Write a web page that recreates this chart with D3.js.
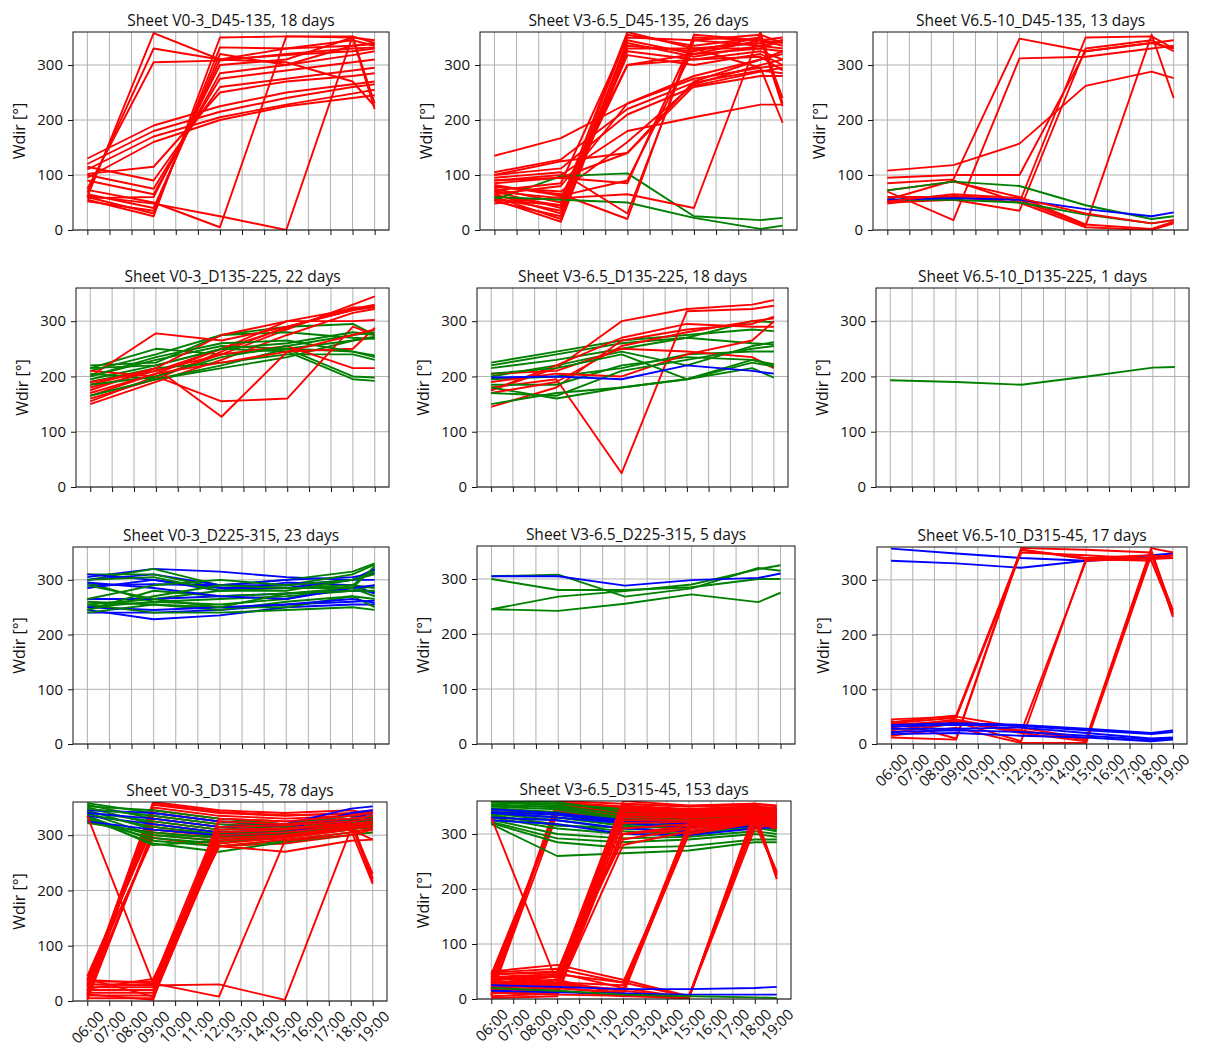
<!DOCTYPE html>
<html><head><meta charset="utf-8">
<script src="https://cdn.jsdelivr.net/npm/d3@7"></script>
<style>
body{margin:0;background:#fff;}
svg text{font-family:"Open Sans",sans-serif;fill:#111;}
</style></head><body>
<svg id="chart" width="1207" height="1050"></svg>
<script>
// ---------------- data ----------------
const hours = [6, 9, 12, 15, 18, 19];
const xTickHours = [6, 7, 8, 9, 10, 11, 12, 13, 14, 15, 16, 17, 18, 19];
const xTickLabels = ["06:00","07:00","08:00","09:00","10:00","11:00","12:00","13:00","14:00","15:00","16:00","17:00","18:00","19:00"];
const yTicks = [0, 100, 200, 300];
const yLabel = "Wdir [°]";
const titles = [
  "Sheet V0-3_D45-135, 18 days",
  "Sheet V3-6.5_D45-135, 26 days",
  "Sheet V6.5-10_D45-135, 13 days",
  "Sheet V0-3_D135-225, 22 days",
  "Sheet V3-6.5_D135-225, 18 days",
  "Sheet V6.5-10_D135-225, 1 days",
  "Sheet V0-3_D225-315, 23 days",
  "Sheet V3-6.5_D225-315, 5 days",
  "Sheet V6.5-10_D315-45, 17 days",
  "Sheet V0-3_D315-45, 78 days",
  "Sheet V3-6.5_D315-45, 153 days"
];
const seriesColors = {r: "#ff0000", g: "#008000", b: "#0000ff"};

// each row: colour code, then Wdir at 06,09,12,15,18,19 h
const v0_3_D45_135 = [
  ["r",60,358,310,330,345,335],["r",68,330,310,305,270,225],["r",75,305,308,320,330,332],
  ["r",55,25,350,352,352,340],["r",60,30,332,330,335,338],["r",65,40,310,318,325,330],
  ["r",90,65,285,300,318,325],["r",100,75,275,290,305,310],["r",115,90,260,275,290,295],
  ["r",102,115,250,270,280,285],["r",130,190,225,250,265,270],["r",120,180,215,240,260,265],
  ["r",110,170,205,228,248,255],["r",95,160,200,225,240,245],["r",73,50,5,352,350,345],
  ["r",62,48,25,0,352,230],["r",58,60,300,310,350,220],["r",52,35,320,300,335,340]
];
const v3_6_D45_135 = [
  ["r",135,167,230,275,295,300],["r",105,128,220,268,290,285],["r",100,112,210,260,280,280],
  ["r",90,100,180,205,228,228],["r",85,95,140,270,310,325],["r",78,70,160,265,300,310],
  ["r",75,50,360,330,340,345],["r",70,40,355,335,350,240],["r",65,30,345,320,345,340],
  ["r",60,20,340,315,335,330],["r",55,15,330,330,330,325],["r",52,25,325,310,325,310],
  ["r",58,35,318,300,320,300],["r",48,60,300,310,315,290],["g",55,98,103,25,18,22],
  ["r",62,45,335,325,350,225],["r",80,65,20,355,345,335],["r",90,95,85,350,345,350],
  ["r",70,58,65,40,360,230],["r",65,80,230,280,310,320],["r",100,125,140,262,288,295],
  ["g",60,55,50,22,2,8],["r",55,45,300,320,330,345],["r",72,85,350,345,355,340],
  ["r",82,62,90,330,295,195],["r",95,105,30,345,335,345]
];
const v6_10_D45_135 = [
  ["r",108,118,157,262,288,276],["r",95,100,100,325,340,345],["r",85,92,348,325,340,330],
  ["r",70,18,312,315,330,335],["r",55,90,50,350,352,330],["r",50,55,35,330,345,325],
  ["r",48,62,55,8,355,240],["r",60,60,50,5,0,12],["r",72,88,60,10,2,15],
  ["g",72,88,80,45,20,25],["g",55,55,50,28,12,18],["b",55,58,55,38,25,32],
  ["r",52,65,58,30,12,18]
];
const v0_3_D135_225 = [
  ["g",215,250,240,250,245,235],["r",155,200,240,285,330,345],["g",220,225,275,290,295,275],
  ["r",160,195,245,290,320,328],["g",210,240,275,280,270,268],["r",165,205,250,288,325,325],
  ["g",200,230,255,250,200,198],["r",150,190,230,275,315,322],["g",195,220,250,245,195,192],
  ["r",180,210,250,300,322,330],["g",190,215,225,240,240,230],["r",200,278,265,290,320,325],
  ["g",205,195,215,235,265,270],["r",210,200,155,160,290,275],["g",165,195,220,250,265,272],
  ["r",185,215,127,245,250,288],["g",215,220,250,260,280,275],["r",175,215,275,300,300,302],
  ["g",200,235,260,265,245,238],["r",190,210,240,255,215,215],["g",185,200,235,255,275,280],
  ["r",170,205,225,245,275,285]
];
const v3_6_D135_225 = [
  ["g",225,245,265,275,285,282],["g",220,240,260,270,300,298],["r",175,215,300,322,330,338],
  ["g",215,230,250,270,260,258],["r",180,195,25,318,322,328],["g",200,220,245,220,255,262],
  ["r",145,180,265,285,295,308],["g",195,200,215,240,245,245],["r",205,210,250,245,235,215],
  ["g",185,185,220,235,230,220],["r",175,220,270,295,290,290],["g",180,160,180,195,225,218],
  ["r",190,205,200,240,265,300],["g",150,170,180,195,215,198],["r",170,190,255,280,300,305],
  ["g",170,165,210,230,250,255],["g",205,215,240,195,230,222],["b",198,200,195,220,210,205]
];
const v6_10_D135_225 = [
  ["g",193,190,185,200,216,217]
];
const v0_3_D225_315 = [
  ["b",305,320,315,305,300,318],["g",300,320,290,300,315,330],["b",300,310,290,300,305,312],
  ["g",310,310,285,290,310,328],["b",290,292,290,290,300,300],["g",295,260,255,265,290,320],
  ["b",285,300,280,295,290,275],["g",255,265,280,285,290,285],["b",265,265,270,275,280,278],
  ["g",250,260,265,270,280,290],["b",245,228,235,250,255,255],["g",245,280,270,275,285,270],
  ["b",240,240,245,255,260,262],["g",240,255,245,260,270,265],["b",295,285,270,265,285,290],
  ["g",260,255,250,250,270,250],["b",250,245,250,255,265,258],["g",255,240,240,245,250,245],
  ["b",310,300,285,285,300,320],["g",290,265,250,275,280,280],["g",300,305,280,280,300,315],
  ["g",245,270,290,285,285,325],["g",265,290,300,290,300,310]
];
const v3_6_D225_315 = [
  ["g",305,308,268,283,320,315],["g",300,280,280,285,300,300],["g",245,268,278,290,318,325],
  ["g",245,242,255,272,258,275],["b",305,305,288,298,302,310]
];
const v6_10_D315_45 = [
  ["b",357,348,340,335,345,348],["b",335,330,322,335,340,340],
  ["r",40,52,355,340,340,345],["r",38,48,350,345,338,340],["r",42,10,358,355,350,235],
  ["r",12,8,355,338,335,238],["r",30,45,22,335,340,345],["r",25,40,5,340,345,340],
  ["r",35,42,20,5,355,240],["r",20,38,25,8,350,232],["r",15,30,2,2,345,245],
  ["r",45,50,30,10,358,350],
  ["b",32,35,33,25,18,22],["b",28,28,30,20,10,12],["b",22,25,22,15,8,10],
  ["b",18,20,15,12,5,8],["b",35,38,35,28,20,25]
];
const v0_3_D315_45 = [
  ["r",5,355,340,335,340,345],["r",10,350,335,330,335,340],["r",15,345,330,325,330,335],
  ["r",20,340,325,320,328,330],["r",25,335,320,318,325,215],["r",30,330,315,315,330,222],
  ["r",35,325,310,312,320,328],["r",40,320,305,310,318,325],["r",45,315,300,308,315,320],
  ["r",2,310,298,305,312,318],["r",8,305,295,300,322,230],["r",12,360,345,340,345,338],
  ["r",18,300,290,298,310,315],["r",28,358,342,336,338,342],["r",38,295,280,285,300,305],
  ["g",355,330,315,305,320,325],["g",350,320,305,300,315,320],["g",345,310,300,298,312,330],
  ["g",340,300,290,295,310,318],["g",335,290,280,290,305,312],["g",330,285,270,288,300,305],
  ["g",325,295,285,300,318,322],["g",322,305,295,305,325,328],["g",358,340,325,315,330,335],
  ["b",345,340,325,320,348,352],["b",335,320,305,310,340,345],
  ["g",352,345,330,320,335,332],["g",348,335,320,310,328,320],["g",342,325,310,312,322,315],
  ["g",338,315,302,308,318,310],["g",333,282,290,302,315,326],["g",328,300,298,310,325,330],
  ["b",325,310,300,305,325,330],["b",340,330,315,318,330,340],
  ["r",35,35,325,320,330,335],["r",30,30,315,318,325,330],["r",25,25,310,312,322,220],
  ["r",20,20,305,310,320,325],["r",15,15,300,305,318,322],["r",10,10,295,300,315,318],
  ["r",5,5,290,298,312,316],["r",40,8,285,295,310,212],["r",22,40,280,292,305,312],
  ["r",12,2,330,325,335,340],["r",38,32,8,290,300,310],["r",30,28,30,2,310,292],
  ["r",335,32,280,270,290,292]
];
const v3_6_D315_45 = [
  ["r",5,358,350,345,350,348],["r",10,355,348,342,348,345],["r",15,352,345,340,346,342],
  ["r",20,350,342,338,344,340],["r",25,348,340,336,342,336],["r",30,345,338,334,340,218],
  ["r",35,342,335,332,338,332],["r",40,340,332,330,336,330],["r",45,338,330,328,334,328],
  ["r",8,336,328,326,332,325],["r",18,360,355,350,355,352],
  ["g",360,358,340,330,340,335],["g",357,352,335,325,335,330],["g",354,348,330,320,330,328],
  ["g",350,345,325,318,328,325],["g",347,340,320,315,325,322],["g",344,335,318,312,322,318],
  ["g",340,330,315,310,320,315],["g",337,325,310,305,318,312],["g",333,318,305,300,315,308],
  ["g",330,310,300,298,312,305],["g",326,300,292,295,305,300],["g",322,292,285,290,300,295],
  ["g",318,260,265,270,285,285],["g",320,285,275,278,290,290],["g",358,355,345,335,345,340],
  ["g",352,350,328,322,332,332],["g",345,338,322,310,326,318],["g",335,315,312,302,316,310],
  ["b",345,338,325,318,325,325],["b",338,330,320,312,320,322],["b",330,325,310,305,315,315],
  ["b",325,318,300,298,310,312],["b",340,335,322,320,328,320],
  ["r",40,45,360,352,355,350],["r",35,40,355,350,352,345],["r",30,35,352,345,350,342],
  ["r",25,30,348,342,348,338],["r",20,25,345,340,345,335],["r",15,20,342,338,342,330],
  ["r",10,15,338,335,340,225],["r",5,10,335,332,338,220],["r",45,50,330,330,335,328],
  ["r",2,5,325,325,332,322],["r",28,18,320,322,330,318],["r",12,8,310,318,328,315],
  ["r",38,28,300,315,325,312],["r",22,42,290,310,322,232],["r",18,12,280,305,320,310],
  ["r",30,25,18,320,330,335],["r",25,20,12,315,328,332],["r",20,35,8,310,325,330],
  ["r",40,30,25,305,322,328],["r",15,45,30,300,320,325],
  ["r",35,20,10,2,330,225],["r",20,15,5,5,320,230],["r",42,28,15,3,310,320],["r",12,8,6,1,340,338],
  ["r",330,30,15,300,320,325],["r",50,62,35,5,320,330],["r",48,55,30,4,335,340],
  ["r",45,48,20,2,342,345],["r",38,42,300,310,330,228],
  ["b",25,22,18,18,20,22],["b",15,12,10,8,8,8],["g",20,15,8,5,3,2]
];

// ---------------- layout ----------------
const panelData = [v0_3_D45_135, v3_6_D45_135, v6_10_D45_135,
                   v0_3_D135_225, v3_6_D135_225, v6_10_D135_225,
                   v0_3_D225_315, v3_6_D225_315, v6_10_D315_45,
                   v0_3_D315_45, v3_6_D315_45];
const panelBoxes = [
  {x:73, y:32, w:316, h:198, lab:false}, {x:480, y:32, w:317, h:198, lab:false}, {x:873, y:32, w:315, h:198, lab:false},
  {x:76, y:288, w:313, h:199, lab:false}, {x:477, y:288, w:311, h:199, lab:false}, {x:876, y:288, w:313, h:199, lab:false},
  {x:73, y:547, w:316, h:197, lab:false}, {x:477, y:546, w:318, h:198, lab:false}, {x:877, y:547, w:310, h:197, lab:true},
  {x:73, y:802, w:314, h:199, lab:true}, {x:477, y:801, w:314, h:198, lab:true}
];

const svg = d3.select("#chart");
const lineW = 1.9;

panelData.forEach((rows, pi) => {
  const b = panelBoxes[pi];
  const g = svg.append("g").attr("transform", `translate(${b.x},${b.y})`);
  const xs = d3.scaleLinear().domain([6 - 0.65, 19 + 0.65]).range([0, b.w]);
  const ys = d3.scaleLinear().domain([0, 360]).range([b.h, 0]);

  // grid
  g.append("g").selectAll("line.vx").data(xTickHours).join("line")
    .attr("x1", d => xs(d)).attr("x2", d => xs(d)).attr("y1", 0).attr("y2", b.h)
    .attr("stroke", "#b0b0b0").attr("stroke-width", 1);
  g.append("g").selectAll("line.hy").data(yTicks).join("line")
    .attr("x1", 0).attr("x2", b.w).attr("y1", d => ys(d)).attr("y2", d => ys(d))
    .attr("stroke", "#b0b0b0").attr("stroke-width", 1);

  // clip
  const cid = "clip" + pi;
  g.append("clipPath").attr("id", cid).append("rect").attr("width", b.w).attr("height", b.h);

  const line = d3.line().x((d, i) => xs(hours[i])).y(d => ys(d));
  g.append("g").attr("clip-path", `url(#${cid})`).selectAll("path").data(rows).join("path")
    .attr("d", r => line(r.slice(1)))
    .attr("fill", "none").attr("stroke", r => seriesColors[r[0]])
    .attr("stroke-width", lineW).attr("stroke-linejoin", "round");

  // axes
  const ax = g.append("g").attr("transform", `translate(0,${b.h})`)
    .call(d3.axisBottom(xs).tickValues(xTickHours).tickSize(5).tickFormat(""));
  ax.select(".domain").remove();
  ax.selectAll(".tick line").attr("stroke", "#111");
  const ay = g.append("g").call(d3.axisLeft(ys).tickValues(yTicks).tickSize(5).tickPadding(5));
  ay.select(".domain").remove();
  ay.selectAll(".tick line").attr("stroke", "#111");
  ay.selectAll(".tick text").attr("font-size", 15).attr("font-family", "Open Sans").attr("fill", "#111");

  if (b.lab) {
    const fs = 15;
    xTickHours.forEach((h, i) => {
      const t = g.append("text").text(xTickLabels[i]).attr("font-size", fs)
        .attr("text-anchor", "middle").attr("dominant-baseline", "central");
      const tw = t.node().getComputedTextLength();
      const bh = (tw + fs) * Math.SQRT1_2;
      const cx = xs(h), cy = b.h + 7 + bh / 2;
      t.attr("x", cx).attr("y", cy).attr("transform", `rotate(-45,${cx},${cy})`);
    });
  }

  // frame
  g.append("rect").attr("width", b.w).attr("height", b.h)
    .attr("fill", "none").attr("stroke", "#111").attr("stroke-width", 1);

  // title
  g.append("text").attr("x", b.w / 2).attr("y", -6).attr("text-anchor", "middle")
    .attr("font-size", 15.5).text(titles[pi]);
  // y label
  g.append("text").attr("transform", `translate(${-48},${b.h / 2}) rotate(-90)`)
    .attr("text-anchor", "middle").attr("font-size", 16).text(yLabel);
});
</script>
</body></html>
